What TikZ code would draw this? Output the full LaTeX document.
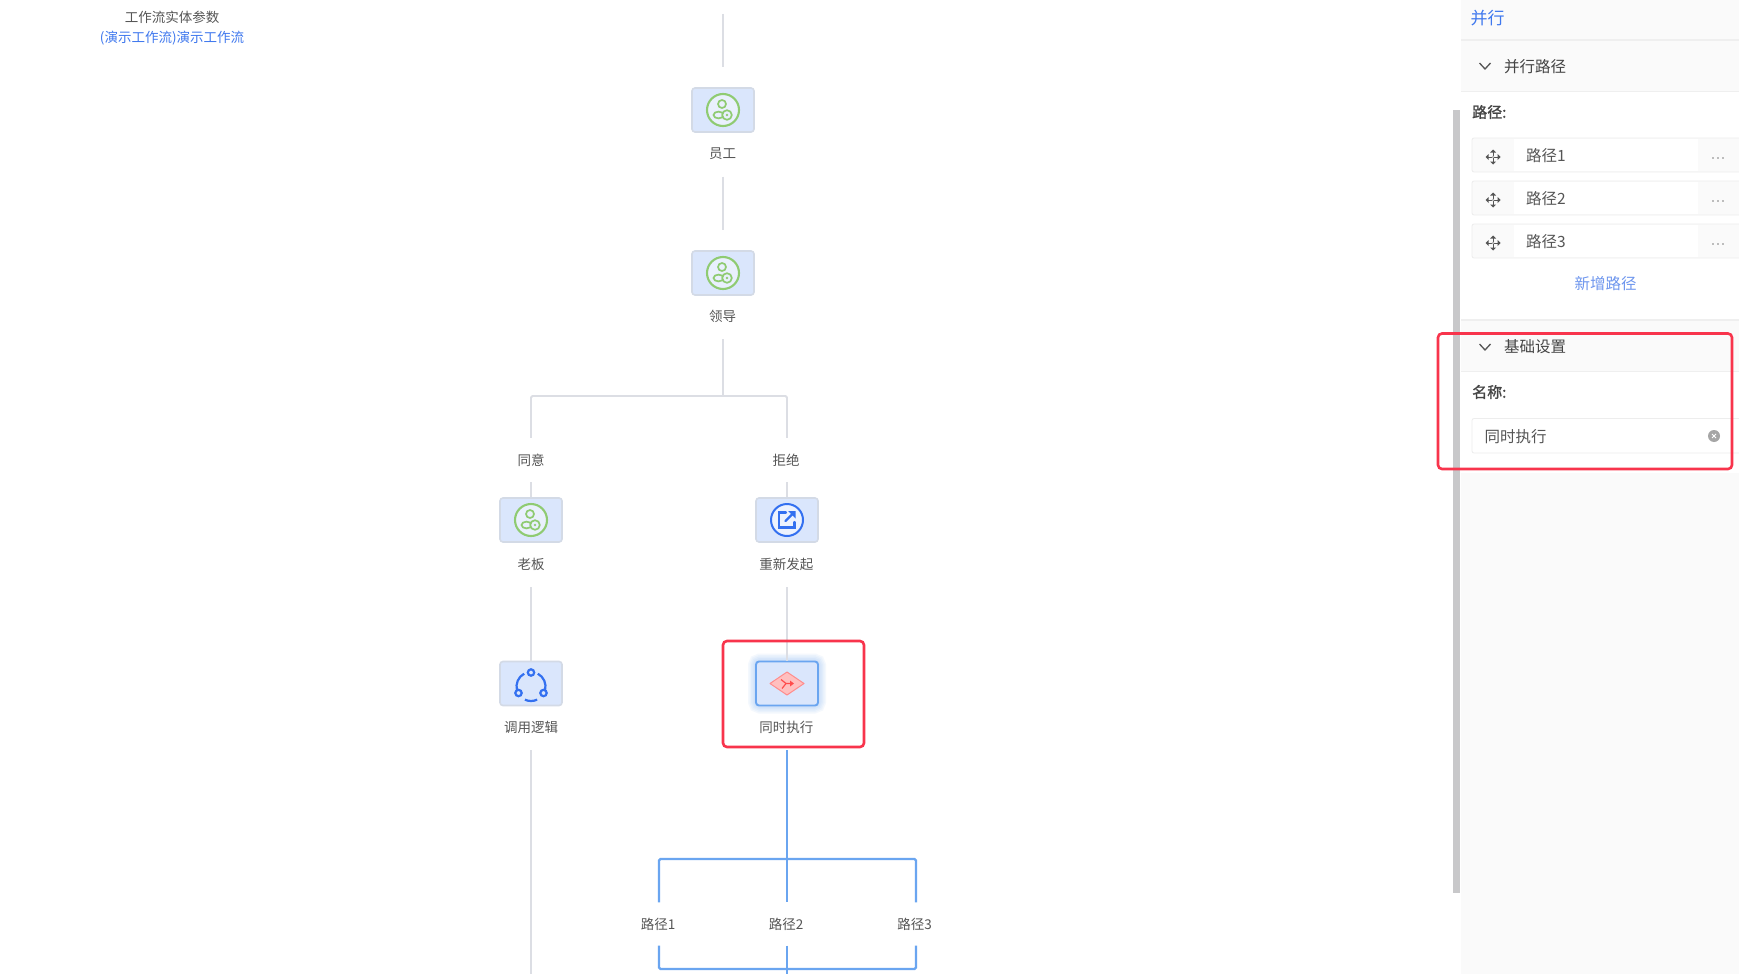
\documentclass[tikz,border=0pt]{standalone}
\usepackage{fontspec}
\setmainfont{Noto Sans CJK SC}
\usetikzlibrary{arrows.meta}
\definecolor{ink}{HTML}{555555}
\definecolor{inkdark}{HTML}{444444}
\definecolor{linegray}{HTML}{DCDEE4}
\definecolor{boxfill}{HTML}{DAE6FC}
\definecolor{boxedge}{HTML}{D3DAE6}
\definecolor{selblue}{HTML}{6AA5F0}
\definecolor{linkblue}{HTML}{3F78EE}
\definecolor{softblue}{HTML}{6E96EE}
\definecolor{iconblue}{HTML}{3370F0}
\definecolor{icongreen}{HTML}{8FCB72}
\definecolor{alertred}{HTML}{F8344C}
\definecolor{panelbg}{HTML}{FAFAFA}
\definecolor{panelline}{HTML}{EFEFEF}
\definecolor{rowedge}{HTML}{EDEDED}
\definecolor{scrollgray}{HTML}{C8C8CA}
\newcommand{\fs}[1]{\fontsize{#1}{#1}\selectfont}
\tikzset{
  x=1pt,y=-1pt,
  nodebox/.style={draw=boxedge,line width=1.6pt,fill=boxfill,rounded corners=3pt,
    minimum width=62pt,minimum height=44pt,inner sep=0pt},
  selbox/.style={nodebox,draw=selblue,line width=1.9pt},
  nlabel/.style={inner sep=0pt,minimum height=46pt,text=ink,font=\fs{13.5}},
  brlabel/.style={inner sep=0pt,minimum height=44pt,text=ink,font=\fs{13.5}},
  conn/.style={draw=linegray,line width=1.9pt,rounded corners=1.5pt},
  blueconn/.style={draw=selblue,line width=2.2pt,rounded corners=1.5pt},
  alertbox/.style={draw=alertred,line width=2.6pt,rounded corners=4pt},
  panelhead/.style={anchor=west,inner sep=0pt,text=inkdark,font=\fs{15.5}},
  fieldlabel/.style={anchor=west,inner sep=0pt,text=inkdark,font=\fs{15}},
  rowtext/.style={anchor=west,inner sep=0pt,text=ink,font=\fs{15.5}},
  rowbox/.style={draw=rowedge,line width=.8pt,fill=panelbg,rounded corners=2pt},
  chev/.style={draw=ink,line width=1.3pt},
  greenicon/.pic={
    \draw[icongreen,line width=2.1pt,fill=white!40!boxfill] (0,0) circle (16pt);
    \draw[icongreen,line width=1.7pt] (-1,-6) circle (4pt);
    \draw[icongreen,line width=1.7pt] (-4.5,5) ellipse (5pt and 3.4pt);
    \draw[icongreen,line width=1.7pt,fill=white!40!boxfill] (4,5) circle (4.8pt);
    \fill[icongreen] (4,5) circle (1.4pt);
  },
  shareicon/.pic={
    \draw[iconblue,line width=2pt,fill=white!50!boxfill] (0,0) circle (16pt);
    \draw[iconblue,line width=2.2pt,line cap=round] (-1,-7.5) -- (-8,-7.5) -- (-8,7.5) -- (7.5,7.5) -- (7.5,2);
    \draw[iconblue,line width=2.2pt,line cap=round] (-1.5,1) -- (5,-5.5);
    \fill[iconblue] (8.5,-9) -- (8.5,-1.5) -- (1,-9) -- cycle;
  },
  cycleicon/.pic={
    \begin{scope}[y=1pt]
      \draw[iconblue,line width=2.2pt] (0,-3) ++(62:14.5pt) arc (62:-15:14.5pt);
      \draw[iconblue,line width=2.2pt] (0,-3) ++(118:14.5pt) arc (118:195:14.5pt);
      \draw[iconblue,line width=2.2pt] (0,-3) ++(-115:14.5pt) arc (-115:-65:14.5pt);
      \draw[iconblue,line width=2.2pt,fill=boxfill] (0,11) circle (3.2pt);
      \draw[iconblue,line width=2.2pt,fill=boxfill] (-12.5,-9.5) circle (3.2pt);
      \draw[iconblue,line width=2.2pt,fill=boxfill] (12.5,-9.5) circle (3.2pt);
    \end{scope}
  },
  splitdiamond/.pic={
    \draw[draw=red!45!white,fill=red!25!white,line width=1pt,line join=round] (-17,0) -- (0,-11.5) -- (17,0) -- (0,11.5) -- cycle;
    \draw[draw=red!70!white,line width=1.2pt] (-6,-4) -- (-1,0) -- (5,0);
    \draw[draw=red!70!white,line width=1.2pt] (-1,0) -- (-5,5);
    \fill[red!70!white] (3,-3) -- (7,0) -- (3,3) -- cycle;
  },
  moveicon/.pic={
    \draw[ink,line width=1pt] (-5,0) -- (5,0) (0,-5) -- (0,5);
    \fill[ink] (-7.5,0) -- (-4.5,-3) -- (-4.5,3) -- cycle;
    \fill[ink] (7.5,0) -- (4.5,-3) -- (4.5,3) -- cycle;
    \fill[ink] (0,-7.5) -- (-3,-4.5) -- (3,-4.5) -- cycle;
    \fill[ink] (0,7.5) -- (-3,4.5) -- (3,4.5) -- cycle;
    \fill[white!60!ink] (0,0) circle (1.4pt);
  },
  moredots/.pic={
    \fill[gray] (-5,0) circle (.9pt) (0,0) circle (.9pt) (5,0) circle (.9pt);
  },
  clearicon/.pic={
    \fill[gray!70!white] (0,0) circle (6pt);
    \draw[white,line width=1pt] (-2,-2) -- (2,2) (-2,2) -- (2,-2);
  },
}
\begin{document}
\begin{tikzpicture}
\useasboundingbox (0,0) rectangle (1739,974);
\fill[white] (0,0) rectangle (1739,974);

% panel
\fill[panelbg] (1461,0) rectangle (1739,974);
\fill[white] (1461,92) rectangle (1739,320);
\fill[white] (1461,372) rectangle (1739,473);
\draw[panelline,line width=1.6pt] (1461,40) -- (1739,40);
\draw[panelline,line width=1pt] (1461,91) -- (1739,91);
\draw[panelline,line width=1.6pt] (1461,320) -- (1739,320);
\draw[panelline,line width=1pt] (1461,371) -- (1739,371);
\fill[scrollgray] (1453,110) rectangle (1460,893);

\node[anchor=west,inner sep=0pt,text=linkblue,font=\fs{17}] (ptitle) at (1470.5,18.5) {并行};
\draw[chev] (1479.5,63) -- (1485,69) -- (1490.5,63);
\node[panelhead] (h1) at (1504,66.5) {并行路径};
\node[fieldlabel] (f1) at (1472,112) {\addfontfeature{FakeBold=1.5}路径:};

\foreach \t/\yy/\lab in {138/156/路径1,181/199/路径2,224/241.5/路径3}{
  \draw[rowbox] (1472,\t) rectangle (1745,\t+34);
  \fill[white] (1514,\t+1) rectangle (1698,\t+33);
  \node[rowtext] at (1526,\yy) {\lab};
  \pic at (1493,\t+19) {moveicon};
  \pic at (1718,\t+20) {moredots};
}
\node[inner sep=0pt,text=softblue,font=\fs{15.5}] (addp) at (1605.5,284) {新增路径};

\draw[chev] (1479.5,344) -- (1485,350) -- (1490.5,344);
\node[panelhead] (h2) at (1504,347) {基础设置};
\node[fieldlabel] (f2) at (1472,392) {\addfontfeature{FakeBold=1.5}名称:};
\draw[rowbox,fill=white] (1472,418.5) rectangle (1745,453);
\node[rowtext] (namev) at (1484.5,436.5) {同时执行};
\pic at (1714,436) {clearicon};

% top left
\node[inner sep=0pt,text=ink,font=\fs{13.5}] (tl1) at (172,17.5) {工作流实体参数};
\node[inner sep=0pt,text=linkblue,font=\fs{13.5}] (tl2) at (172,38) {(演示工作流)演示工作流};

% nodes
\node[nodebox] (emp) at (723,110) {};
\node[nlabel] (empL) at (723,153.5) {\hspace*{-1pt}员工};
\node[nodebox] (lead) at (723,273) {};
\node[nlabel] (leadL) at (723,316) {\hspace*{-1pt}领导};
\node[brlabel] (agree) at (531,460) {同意};
\node[brlabel] (reject) at (787,460) {\hspace*{-2pt}拒绝};
\node[nodebox] (boss) at (531,520) {};
\node[nlabel] (bossL) at (531,564) {老板};
\node[nodebox] (re) at (787,520) {};
\node[nlabel] (reL) at (787,564) {\hspace*{-1.5pt}重新发起};
\node[nodebox] (call) at (531,683.5) {};
\node[nlabel] (callL) at (531,727) {调用逻辑};
\foreach \w in {16,13,10,7,4}{
  \draw[selblue,opacity=.07,line width=\w pt,rounded corners=4pt] (756,661.5) rectangle (818,705.5);
}
\node[selbox] (par) at (787,683.5) {};
\node[nlabel] (parL) at (787,727) {\hspace*{-1.5pt}同时执行};
\node[brlabel,minimum height=43pt] (p1) at (659,924) {\hspace*{-2pt}路径1};
\node[brlabel,minimum height=43pt] (p2) at (787,924) {\hspace*{-2pt}路径2};
\node[brlabel,minimum height=43pt] (p3) at (916,924) {\hspace*{-3pt}路径3};

\coordinate (top) at (723,14);
\coordinate (j1) at (723,396);
\coordinate (callEnd) at (531,974);
\coordinate (j2) at (787,859);
\coordinate (j3) at (787,969);
\coordinate (p2End) at (787,974);

% connectors
\draw[conn,shorten >=20pt] (top) -- (emp.north);
\draw[conn,shorten >=20pt] (empL.south) -- (lead.north);
\draw[conn] (leadL.south) -- (j1);
\draw[conn] (agree.north) |- (j1) -| (reject.north);
\draw[conn] (agree.south) -- (boss.north);
\draw[conn] (reject.south) -- (re.north);
\draw[conn] (bossL.south) -- (call.north);
\draw[conn] (reL.south) -- (par.north);
\draw[conn] (callL.south) -- (callEnd);
\draw[blueconn] (parL.south) -- (j2);
\draw[blueconn] (p1.north) |- (j2) -| (p3.north);
\draw[blueconn] (j2) -- (p2.north);
\draw[blueconn] (p1.south) |- (j3) -| (p3.south);
\draw[blueconn] (p2.south) -- (p2End);

% icons
\pic at (emp) {greenicon};
\pic at (lead) {greenicon};
\pic at (boss) {greenicon};
\pic at (re) {shareicon};
\pic at (call) {cycleicon};
\pic at (par) {splitdiamond};

% highlights
\draw[alertbox] (723,641) rectangle (864,747);
\draw[alertbox] (1438,333.5) rectangle (1732,469);
\end{tikzpicture}
\end{document}
